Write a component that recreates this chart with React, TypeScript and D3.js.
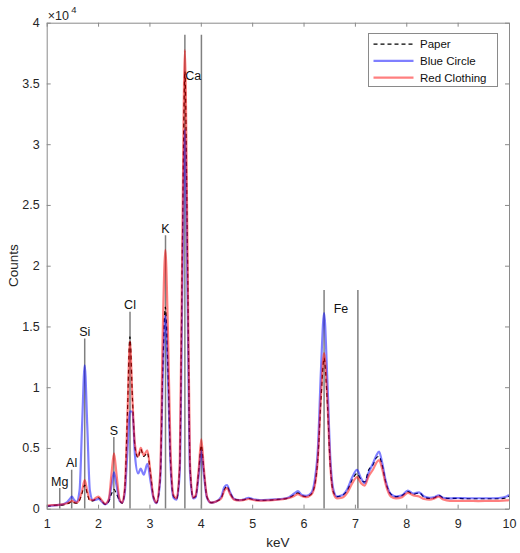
import React, { useRef, useEffect } from "react";
import * as d3 from "d3";

// spectra (keV, counts)
const energy = [
  1.0, 1.1, 1.2, 1.3, 1.4, 1.45, 1.49, 1.53, 1.58, 1.64,
  1.69, 1.74, 1.79, 1.84, 1.9, 1.96, 2.01, 2.07, 2.14, 2.21,
  2.26, 2.31, 2.36, 2.42, 2.47, 2.52, 2.57, 2.62, 2.67, 2.72,
  2.78, 2.83, 2.89, 2.96, 3.02, 3.08, 3.14, 3.21, 3.26, 3.31,
  3.36, 3.41, 3.47, 3.53, 3.59, 3.64, 3.69, 3.74, 3.79, 3.85,
  3.9, 3.96, 4.01, 4.06, 4.12, 4.2, 4.3, 4.4, 4.46, 4.51,
  4.57, 4.65, 4.75, 4.85, 4.93, 5.02, 5.15, 5.3, 5.45, 5.6,
  5.72, 5.82, 5.89, 5.96, 6.05, 6.15, 6.22, 6.28, 6.34, 6.4,
  6.46, 6.52, 6.58, 6.65, 6.75, 6.85, 6.95, 7.04, 7.12, 7.19,
  7.27, 7.35, 7.42, 7.47, 7.53, 7.6, 7.7, 7.8, 7.92, 8.03,
  8.14, 8.25, 8.35, 8.45, 8.55, 8.63, 8.72, 8.85, 9.0, 9.2,
  9.4, 9.6, 9.8, 9.95, 10.0,
];

const paper = [
  200, 250, 300, 300, 400, 500, 600, 500, 450, 700,
  1300, 1950, 1250, 650, 650, 800, 900, 650, 350, 600,
  1200, 1600, 1200, 650, 450, 1600, 7600, 14150, 9000, 5000,
  4200, 4900, 4300, 4600, 2900, 950, 500, 2500, 11500, 16600,
  11500, 3900, 1000, 800, 3500, 21000, 36000, 21000, 3500, 900,
  1000, 3100, 5200, 3100, 950, 500, 600, 900, 1600, 1850,
  1300, 800, 700, 750, 850, 750, 680, 700, 750, 800,
  900, 1150, 1300, 1100, 1000, 1200, 2000, 4200, 9000, 12400,
  9000, 3600, 1400, 1000, 1100, 1500, 2400, 2900, 2400, 2200,
  3200, 3600, 4200, 4300, 3600, 2200, 1200, 1000, 1100, 1400,
  1200, 1300, 950, 850, 900, 1100, 900, 850, 850, 820,
  820, 820, 820, 900, 1050,
];

const blueCircle = [
  200, 250, 300, 350, 550, 800, 1000, 750, 550, 1500,
  7000, 11800, 6800, 1500, 700, 750, 800, 600, 350, 700,
  1900, 3000, 1900, 650, 500, 1300, 4600, 8000, 8000, 4300,
  2900, 3300, 2800, 3700, 2300, 850, 450, 2400, 11000, 15900,
  11000, 3700, 900, 750, 3000, 18000, 31200, 18000, 3000, 850,
  950, 2800, 4800, 2800, 900, 500, 600, 1000, 1800, 1950,
  1350, 800, 700, 780, 900, 780, 700, 720, 760, 820,
  950, 1250, 1450, 1150, 1050, 1300, 2400, 5000, 11500, 16100,
  11000, 4300, 1600, 1000, 1100, 1600, 2600, 3200, 2500, 2100,
  3000, 3700, 4400, 4700, 3800, 2300, 1200, 1000, 1100, 1500,
  1250, 1350, 1000, 900, 950, 1100, 900, 850, 880, 860,
  860, 860, 880, 1000, 1150,
];

const redClothing = [
  250, 300, 300, 350, 450, 550, 650, 550, 500, 800,
  1500, 2350, 1450, 750, 700, 900, 1000, 700, 400, 800,
  2800, 4550, 2800, 750, 500, 1700, 7400, 13750, 8900, 5200,
  4300, 5000, 4400, 4800, 3000, 950, 500, 3000, 14700, 21300,
  14700, 5000, 1100, 850, 3800, 22000, 37750, 22000, 3800, 900,
  1100, 3300, 5700, 3300, 1000, 500, 600, 850, 1500, 1700,
  1200, 750, 680, 720, 800, 720, 660, 680, 730, 780,
  880, 1050, 1200, 1050, 950, 1150, 1900, 4200, 9300, 12800,
  9200, 3600, 1300, 850, 900, 1300, 2100, 2600, 2100, 1900,
  2700, 3200, 3800, 4000, 3300, 2000, 1000, 850, 950, 1300,
  1100, 1000, 800, 750, 850, 1000, 750, 650, 650, 650,
  630, 640, 650, 680, 700,
];

const seriesNames = ["Paper", "Blue Circle", "Red Clothing"];

// element marker lines
const elements = ["Mg", "Al", "Si", "S", "Cl", "K", "Ca", "Fe"];
const elementLines = [[1.254], [1.486], [1.74], [2.307], [2.622], [3.313], [3.69, 4.012], [6.4, 7.058]];
const elementTops = [1700, 3200, 14000, 5900, 16200, 22500, 39000, 18000];

const xTicks = [1, 2, 3, 4, 5, 6, 7, 8, 9, 10];
const yTicks = [0, 5000, 10000, 15000, 20000, 25000, 30000, 35000, 40000];

const App = () => {
  const ref = useRef(null);

  useEffect(() => {
    const svg = d3.select(ref.current);
    svg.selectAll("*").remove();

    const left = 46.7;
    const right = 509;
    const top = 22.7;
    const bottom = 508.7;
    const font = "'Liberation Sans', Arial, Helvetica, sans-serif";
    const axisColor = "#8a8a8a";
    const textColor = "#262626";

    const x = d3.scaleLinear().domain([1, 10]).range([left, right]);
    const y = d3.scaleLinear().domain([0, 40000]).range([bottom, top]);

    svg.append("rect").attr("width", 520).attr("height", 553).attr("fill", "#fff");

    svg.append("defs").append("clipPath").attr("id", "plot-clip")
      .append("rect")
      .attr("x", left).attr("y", top)
      .attr("width", right - left).attr("height", bottom - top);

    const plot = svg.append("g").attr("clip-path", "url(#plot-clip)");

    // element lines
    elements.forEach((el, i) => {
      elementLines[i].forEach((e) => {
        plot.append("line")
          .attr("x1", x(e)).attr("x2", x(e))
          .attr("y1", y(0)).attr("y2", y(elementTops[i]))
          .attr("stroke", "#808080")
          .attr("stroke-width", 1.5);
      });
    });

    const series = [
      { name: seriesNames[0], values: paper, color: "#000", width: 1.2, dash: "4,3", opacity: 1 },
      { name: seriesNames[1], values: blueCircle, color: "#0000ff", width: 2.2, dash: null, opacity: 0.5 },
      { name: seriesNames[2], values: redClothing, color: "#ff0000", width: 2.2, dash: null, opacity: 0.5 },
    ];

    const line = d3.line()
      .x((d) => x(d[0]))
      .y((d) => y(d[1]))
      .curve(d3.curveMonotoneX);

    series.forEach((s) => {
      plot.append("path")
        .datum(energy.map((e, i) => [e, s.values[i]]))
        .attr("d", line)
        .attr("fill", "none")
        .attr("stroke", s.color)
        .attr("stroke-opacity", s.opacity)
        .attr("stroke-width", s.width)
        .attr("stroke-dasharray", s.dash)
        .attr("stroke-linejoin", "round");
    });

    // element labels
    elements.forEach((el, i) => {
      const lines = elementLines[i];
      const g = svg.append("text")
        .attr("font-family", font)
        .attr("font-size", 12.5)
        .attr("fill", "#111")
        .attr("text-anchor", "middle")
        .text(el);
      if (lines.length === 1) {
        g.attr("x", x(lines[0])).attr("y", y(elementTops[i]) - 2.5);
      } else {
        g.attr("x", x(d3.mean(lines))).attr("y", y(elementTops[i] * 0.915)).attr("dy", "0.35em");
      }
    });

    // axes
    const styleAxis = (g) => {
      g.select(".domain").attr("stroke", axisColor);
      g.selectAll(".tick line").attr("stroke", axisColor);
      g.selectAll(".tick text")
        .attr("fill", textColor)
        .attr("font-family", font)
        .attr("font-size", 12.5);
    };

    svg.append("g")
      .attr("transform", `translate(0,${bottom})`)
      .call(d3.axisBottom(x).tickValues(xTicks).tickSizeInner(-4).tickSizeOuter(0).tickPadding(10))
      .call(styleAxis);
    svg.append("g")
      .attr("transform", `translate(0,${top})`)
      .call(d3.axisTop(x).tickValues(xTicks).tickSizeInner(-4).tickSizeOuter(0).tickFormat(() => ""))
      .call(styleAxis);
    svg.append("g")
      .attr("transform", `translate(${left},0)`)
      .call(d3.axisLeft(y).tickValues(yTicks).tickSizeInner(-4).tickSizeOuter(0).tickPadding(7)
        .tickFormat((d) => String(d / 10000)))
      .call(styleAxis);
    svg.append("g")
      .attr("transform", `translate(${right},0)`)
      .call(d3.axisRight(y).tickValues(yTicks).tickSizeInner(-4).tickSizeOuter(0).tickFormat(() => ""))
      .call(styleAxis);

    // exponent
    svg.append("text")
      .attr("x", left + 1).attr("y", 19.5)
      .attr("font-family", font).attr("font-size", 12.5).attr("fill", textColor)
      .text("\u00d710");
    svg.append("text")
      .attr("x", left + 24.5).attr("y", 13)
      .attr("font-family", font).attr("font-size", 9.5).attr("fill", textColor)
      .text("4");

    // axis titles
    svg.append("text")
      .attr("x", (left + right) / 2).attr("y", 546.5)
      .attr("text-anchor", "middle")
      .attr("font-family", font).attr("font-size", 13.5).attr("fill", textColor)
      .text("keV");
    svg.append("text")
      .attr("transform", `translate(17.5,${(top + bottom) / 2}) rotate(-90)`)
      .attr("text-anchor", "middle")
      .attr("font-family", font).attr("font-size", 13.5).attr("fill", textColor)
      .text("Counts");

    // legend
    const legend = svg.append("g").attr("transform", "translate(368.5,33.5)");
    legend.append("rect")
      .attr("width", 129).attr("height", 53)
      .attr("fill", "#fff").attr("stroke", axisColor);
    series.forEach((s, i) => {
      const ly = 10.7 + i * 16.7;
      legend.append("line")
        .attr("x1", 5).attr("x2", 45).attr("y1", ly).attr("y2", ly)
        .attr("stroke", s.color)
        .attr("stroke-opacity", s.opacity)
        .attr("stroke-width", s.width)
        .attr("stroke-dasharray", s.dash);
      legend.append("text")
        .attr("x", 51.5).attr("y", ly).attr("dy", "0.35em")
        .attr("font-family", font).attr("font-size", 11.5).attr("fill", "#111")
        .text(s.name);
    });
  }, []);

  return <svg ref={ref} width={520} height={553} style={{ position: "absolute", left: 0, top: 0 }}></svg>;
};

export default App;
